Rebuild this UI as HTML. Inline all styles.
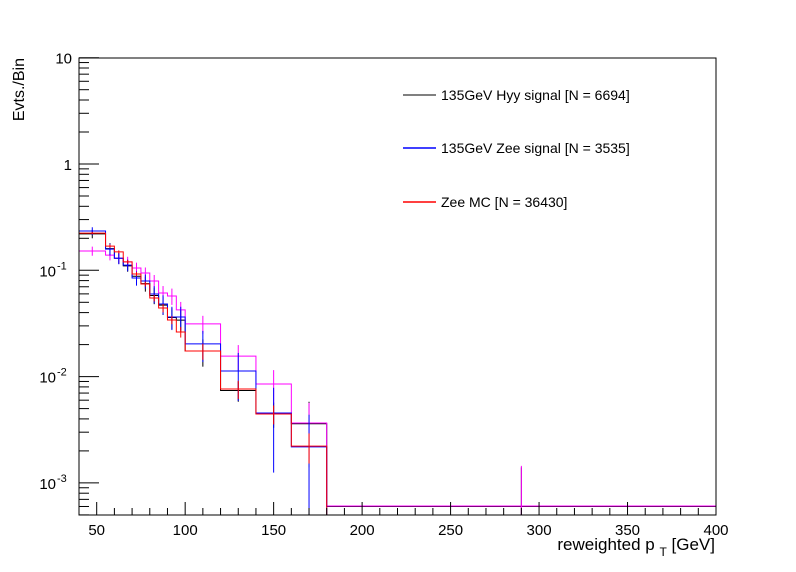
<!DOCTYPE html>
<html><head><meta charset="utf-8"><style>
body{margin:0;background:#fff}
svg{display:block;font-family:"Liberation Sans",sans-serif}
</style></head><body>
<svg id="c" width="796" height="572"></svg>
<script>
const binEdges=[40,55,60,65,70,75,80,85,90,95,100,120,140,160,180,400];
const xTicks=[50,100,150,200,250,300,350,400];
const yDecades=[-3,-2,-1,0,1];
const yLabels=["10","10","10","1","10"];
const seriesNames=["135GeV Hyy signal [N = 6694]","135GeV Zee signal [N = 3535]","Zee MC [N = 36430]"];
const blackVals=[0.22,0.16,0.13,0.11,0.088,0.075,0.058,0.047,0.036,0.034,0.0174,0.0074,0.0045,0.0036,0.0006];
const blackErr=[0.02,0.02,0.015,0.013,0.012,0.012,0.01,0.009,0.008,0.008,0.005,0.0016,0.0012,0.0022,0.0008];
const blueVals=[0.234,0.158,0.130,0.112,0.0847,0.0793,0.0598,0.0482,0.0364,0.0364,0.0203,0.0113,0.00455,0.00218,0.0004];
const blueErr=[0.02,0.02,0.016,0.014,0.013,0.012,0.011,0.01,0.009,0.009,0.0066,0.0054,0.0033,0.0022,0];
const redVals=[0.224,0.169,0.149,0.120,0.0923,0.0743,0.0549,0.0442,0.0341,0.0263,0.0174,0.00764,0.00445,0.00222,0.0004];
const redErr=[0.006,0.006,0.005,0.005,0.004,0.004,0.004,0.004,0.003,0.003,0.003,0.0015,0.0009,0.0007,0];
const magVals=[0.152,0.139,0.130,0.120,0.105,0.0943,0.0793,0.0611,0.0573,0.0424,0.0313,0.0156,0.00851,0.00366,0.000607];
const magErr=[0.015,0.015,0.014,0.014,0.013,0.012,0.011,0.01,0.01,0.008,0.006,0.0042,0.003,0.002,0.00084];

const NS="http://www.w3.org/2000/svg";
const svg=document.getElementById('c');
const X0=79,X1=716,Y0=58,Y1=515;
const sx=v=>X0+(v-40)*(X1-X0)/360;
const sy=v=>{const y=164-106.3*Math.log10(v);return Math.min(Y1,Math.max(Y0,y));};
function el(t,a,p){const e=document.createElementNS(NS,t);for(const k in a)e.setAttribute(k,a[k]);(p||svg).appendChild(e);return e;}

function drawHist(vals,errs,color,w,name){
  const g=el('g',{});
  
  
  let d='';
  vals.forEach((v,i)=>{
    const y=sy(v),xa=sx(binEdges[i]),xb=sx(binEdges[i+1]);
    d+=(i===0?'M':'L')+xa+','+y+'L'+xb+','+y;
  });
  el('path',{d:d,fill:'none',stroke:color,'stroke-width':w},g);
  vals.forEach((v,i)=>{
    if(!errs[i])return;
    const xc=sx((binEdges[i]+binEdges[i+1])/2);
    const lo=v-errs[i]>0?sy(v-errs[i]):Y1;
    const ln=el('line',{x1:xc,x2:xc,y1:sy(v+errs[i]),y2:lo,stroke:color,'stroke-width':1},g);
    
    
  });
}
drawHist(blackVals,blackErr,'#000',1,'hyy-signal-hist');
drawHist(magVals,magErr,'#f0f',1,'magenta-hist');
drawHist(blueVals,blueErr,'#00f',1,'zee-signal-hist');
drawHist(redVals,redErr,'#f00',1,'zee-mc-hist');

const fr=el('rect',{x:X0,y:Y0,width:X1-X0,height:Y1-Y0,fill:'none',stroke:'#000','stroke-width':1});



for(let v=40;v<=400;v+=10){
  const major=v%50===0;
  el('line',{x1:sx(v),x2:sx(v),y1:Y1,y2:Y1-(major?13:7),stroke:'#000'});
}
xTicks.forEach(v=>{
  const t=el('text',{x:sx(v),y:535,'font-size':15,'text-anchor':'middle'});
  t.textContent=v;
  
  
});
for(let e=-4;e<=1;e++){
  for(let m=1;m<10;m++){
    const v=m*Math.pow(10,e);
    if(v>10.0001)break;
    const y=164-106.3*Math.log10(v);
    if(y<Y0-0.5||y>Y1)continue;
    el('line',{x1:X0,x2:X0+(m===1?20:10),y1:y,y2:y,stroke:'#000'});
  }
}
yDecades.forEach((e,i)=>{
  const y=164-106.3*e;
  const t=el('text',{x:e<0?56:72,y:y+6,'font-size':15,'text-anchor':'end'});
  t.textContent=yLabels[i];
  
  
  if(e<0){
    const s=el('text',{x:57,y:y-1,'font-size':11});
    s.textContent=String(e);
    
    
  }
});
const xt=el('text',{x:715,y:550,'font-size':17,'text-anchor':'end'});
xt.innerHTML='reweighted p <tspan dy="6" font-size="12">T</tspan><tspan dy="-6"> [GeV]</tspan>';


const yt=el('text',{x:0,y:0,'font-size':16,'text-anchor':'end',transform:'translate(24,58) rotate(-90)'});
yt.textContent='Evts./Bin';


const legColors=['#000','#00f','#f00'];
const legY=[95,148,202];
seriesNames.forEach((n,i)=>{
  const g=el('g',{});
  
  
  el('line',{x1:403,x2:436,y1:legY[i],y2:legY[i],stroke:legColors[i],'stroke-width':i?1.5:1},g);
  const t=el('text',{x:441,y:legY[i]+5,'font-size':14},g);
  t.textContent=n;
});
</script>
</body></html>
